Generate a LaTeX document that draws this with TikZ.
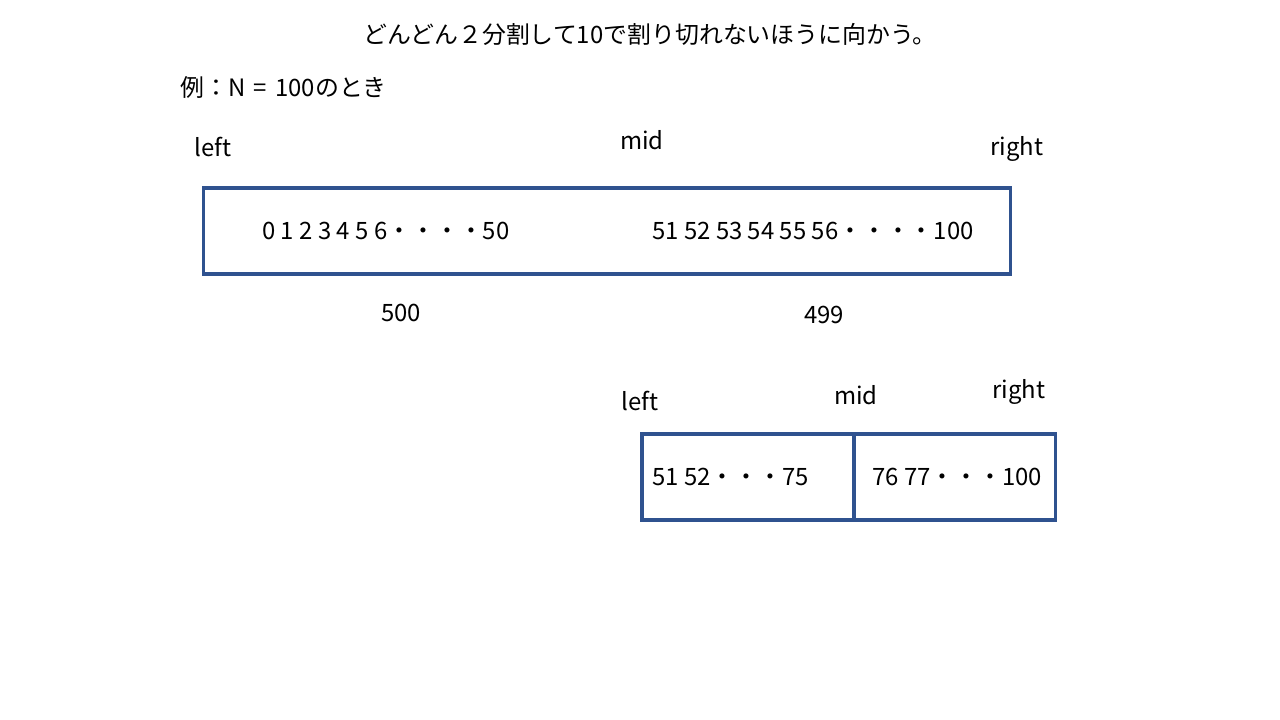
\documentclass[tikz,border=0pt]{standalone}
\usepackage{fontspec}
\setmainfont{Noto Sans CJK JP}
\usetikzlibrary{positioning}
\definecolor{boxblue}{HTML}{2F528F}

\begin{document}
\begin{tikzpicture}[x=0.025cm,y=-0.025cm,
    font=\fontsize{17}{20}\selectfont,
    cell/.style={draw=boxblue, line width=2.2pt, inner sep=0pt,
        outer sep=0pt, minimum height=2.15cm},
    txt/.style={inner sep=0pt, anchor=west},
    tag/.style={inner sep=0pt},
  ]
  \useasboundingbox (0,0) rectangle (1280,720);

  % headings
  \node[tag] (title) at (650,34) {どんどん２分割して10で割り切れないほうに向かう。};
  \node[txt] (ex) at (180,87) {例：N\hspace{0.35em}=\hspace{0.35em}100のとき};

  % first range
  \node[cell, minimum width=20.15cm] (whole) at (607,231) {};
  \node[tag] (l1) at (213,147) {left};
  \node[tag] (m1) at (642,140) {mid};
  \node[tag] (r1) at (1017,149) {right};
  \node[txt] (lo1) at (262,231) {0 1 2 3 4 5 6・・・・50};
  \node[txt] (hi1) at (652,231) {51 52 53 54 55 56・・・・100};
  \node[tag] (c1) at (401,313) {500};
  \node[tag] (c2) at (824,315) {499};

  % second range
  \node[cell, minimum width=5.3cm] (lo) at (748,477) {};
  \node[cell, minimum width=5.025cm, right=0pt of lo] (hi) {};
  \node[tag] (l2) at (640,401) {left};
  \node[tag] (m2) at (856,395) {mid};
  \node[tag] (r2) at (1019,392) {right};
  \node[txt] (lo2) at (652,477) {51 52・・・75};
  \node[txt] (hi2) at (872,477) {76 77・・・100};
\end{tikzpicture}
\end{document}
